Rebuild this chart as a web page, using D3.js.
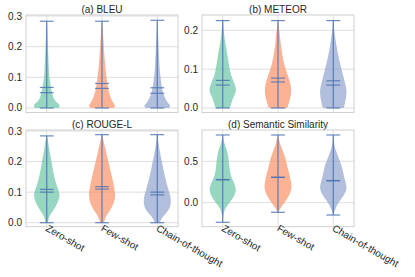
<!DOCTYPE html>
<html>
<head>
<meta charset="utf-8">
<style>
    body { margin: 0; background: white; }
    svg { font-family: "Liberation Sans", Arial, Helvetica, sans-serif; }
</style>
</head>
<body>
<svg width="415" height="277"></svg>
<script src="https://d3js.org/d3.v7.min.js"></script>
<script>
    const methods = ["Zero-shot", "Few-shot", "Chain-of-thought"];
    const colors = ["#66c2a5", "#fc8d62", "#8da0cb"];
    const titles = ["(a) BLEU", "(b) METEOR", "(c) ROUGE-L", "(d) Semantic Similarity"];

    // density outlines per method: [score, relative width]
    const bleuShapes = [
        [[0,0.85],[0.008,1],[0.018,0.7],[0.03,0.5],[0.046,0.4],[0.07,0.28],[0.1,0.19],[0.13,0.15],[0.165,0.12],[0.22,0.07],[0.26,0.04],[0.283,0.01]],
        [[0,0.85],[0.008,1],[0.02,0.75],[0.046,0.52],[0.07,0.42],[0.1,0.32],[0.13,0.25],[0.165,0.18],[0.22,0.11],[0.26,0.05],[0.284,0.01]],
        [[0,0.85],[0.008,1],[0.02,0.68],[0.046,0.43],[0.07,0.32],[0.1,0.23],[0.13,0.17],[0.165,0.13],[0.22,0.08],[0.26,0.04],[0.286,0.01]]
    ];
    const meteorShapes = [
        [[0,0.52],[0.023,0.71],[0.036,0.9],[0.049,1],[0.066,0.81],[0.084,0.6],[0.1,0.5],[0.122,0.4],[0.148,0.29],[0.174,0.15],[0.2,0.07],[0.225,0.01]],
        [[0,0.67],[0.02,0.85],[0.045,1],[0.07,0.86],[0.097,0.57],[0.122,0.38],[0.148,0.26],[0.174,0.17],[0.2,0.1],[0.225,0.01]],
        [[0,0.76],[0.02,0.9],[0.045,1],[0.07,0.81],[0.097,0.62],[0.12,0.45],[0.148,0.29],[0.174,0.17],[0.2,0.07],[0.225,0.01]]
    ];
    const rougeShapes = [
        [[0,0.1],[0.017,0.14],[0.034,0.38],[0.056,0.71],[0.089,1],[0.11,0.81],[0.143,0.57],[0.176,0.43],[0.209,0.31],[0.242,0.17],[0.274,0.07],[0.284,0.01]],
        [[0,0.14],[0.017,0.24],[0.034,0.48],[0.056,0.81],[0.089,1],[0.121,0.86],[0.154,0.71],[0.187,0.52],[0.22,0.36],[0.252,0.19],[0.288,0.01]],
        [[0,0.19],[0.014,0.29],[0.028,0.57],[0.045,0.9],[0.067,1],[0.089,0.95],[0.11,0.79],[0.143,0.6],[0.176,0.43],[0.209,0.29],[0.242,0.14],[0.288,0.01]]
    ];
    const semShapes = [
        [[-0.237,0.01],[-0.15,0.02],[-0.06,0.19],[0.004,0.52],[0.085,0.86],[0.165,1],[0.246,0.8],[0.327,0.57],[0.407,0.5],[0.488,0.45],[0.568,0.4],[0.65,0.28],[0.73,0.08],[0.818,0.01]],
        [[-0.116,0.01],[-0.077,0.14],[0.004,0.48],[0.085,0.81],[0.165,1],[0.246,0.95],[0.327,0.86],[0.407,0.71],[0.488,0.62],[0.568,0.48],[0.65,0.29],[0.73,0.12],[0.818,0.01]],
        [[-0.149,0.01],[-0.077,0.14],[0.004,0.38],[0.085,0.76],[0.165,1],[0.246,0.9],[0.327,0.76],[0.407,0.67],[0.488,0.52],[0.568,0.33],[0.65,0.14],[0.73,0.05],[0.818,0.01]]
    ];

    // summary lines per method
    const bleuMin = [0, 0, 0],           bleuMax = [0.283, 0.283, 0.286];
    const bleuMean = [0.067, 0.08, 0.066], bleuMedian = [0.05, 0.064, 0.048];
    const meteorMin = [0, 0, 0],         meteorMax = [0.225, 0.225, 0.225];
    const meteorMean = [0.071, 0.077, 0.07], meteorMedian = [0.059, 0.067, 0.059];
    const rougeMin = [0, 0, 0],          rougeMax = [0.284, 0.288, 0.288];
    const rougeMean = [0.109, 0.118, 0.1], rougeMedian = [0.1, 0.11, 0.091];
    const semMin = [-0.237, -0.116, -0.149], semMax = [0.818, 0.818, 0.818];
    const semMean = [0.28, 0.308, 0.268], semMedian = [0.276, 0.305, 0.264];

    const yTicks = [[0, 0.1, 0.2, 0.3], [0, 0.1, 0.2], [0, 0.1, 0.2, 0.3], [0, 0.5]];
    const yDomains = [[-0.0147, 0.3033], [-0.0116, 0.2394], [-0.0131, 0.3033], [-0.29, 0.878]];

    const panels = [
        {shapes: bleuShapes, min: bleuMin, max: bleuMax, mean: bleuMean, median: bleuMedian},
        {shapes: meteorShapes, min: meteorMin, max: meteorMax, mean: meteorMean, median: meteorMedian},
        {shapes: rougeShapes, min: rougeMin, max: rougeMax, mean: rougeMean, median: rougeMedian},
        {shapes: semShapes, min: semMin, max: semMax, mean: semMean, median: semMedian}
    ];

    const boxes = [
        {x0: 26, x1: 178, y0: 15, y1: 112.5},
        {x0: 202, x1: 354, y0: 15, y1: 112.5},
        {x0: 26, x1: 178, y0: 130, y1: 226.7},
        {x0: 202, x1: 354, y0: 130, y1: 226.7}
    ];

    const svg = d3.select("svg");
    const gridColor = "#dedede";
    const lineColor = "#4f74b3";

    panels.forEach((p, k) => {
        const b = boxes[k];
        const x = d3.scaleLinear().domain([0.625, 3.375]).range([b.x0, b.x1]);
        const y = d3.scaleLinear().domain(yDomains[k]).range([b.y1, b.y0]);
        const g = svg.append("g");

        // grid
        g.append("g").selectAll("line").data(yTicks[k]).join("line")
            .attr("x1", b.x0).attr("x2", b.x1)
            .attr("y1", d => y(d)).attr("y2", d => y(d))
            .attr("stroke", gridColor).attr("stroke-width", 1);
        g.append("g").selectAll("line").data([1, 2, 3]).join("line")
            .attr("x1", d => x(d)).attr("x2", d => x(d))
            .attr("y1", b.y0).attr("y2", b.y1)
            .attr("stroke", gridColor).attr("stroke-width", 1);

        // y labels
        g.append("g").selectAll("text").data(yTicks[k]).join("text")
            .attr("x", b.x0 - 4).attr("y", d => y(d))
            .attr("dy", "0.35em")
            .attr("text-anchor", "end")
            .attr("font-size", 10)
            .attr("fill", "#262626")
            .text(d => d3.format(".1f")(d));

        // title
        g.append("text")
            .attr("x", (b.x0 + b.x1) / 2).attr("y", b.y0 - 2)
            .attr("text-anchor", "middle")
            .attr("font-size", 10)
            .attr("fill", "#262626")
            .text(titles[k]);

        // violins
        p.shapes.forEach((shape, i) => {
            const pos = i + 1;
            const area = d3.area()
                .y(d => y(d[0]))
                .x0(d => x(pos - d[1] * 0.25))
                .x1(d => x(pos + d[1] * 0.25))
                .curve(d3.curveBasis);
            g.append("path")
                .datum(shape)
                .attr("d", area)
                .attr("fill", colors[i])
                .attr("fill-opacity", 0.68);
        });

        // stat lines
        const lg = g.append("g")
            .attr("stroke", lineColor)
            .attr("stroke-width", 1.2)
            .attr("stroke-opacity", 0.85);
        [0, 1, 2].forEach(i => {
            const pos = i + 1;
            lg.append("line")
                .attr("x1", x(pos)).attr("x2", x(pos))
                .attr("y1", y(p.min[i])).attr("y2", y(p.max[i]));
            [p.min[i], p.max[i], p.mean[i], p.median[i]].forEach(v => {
                lg.append("line")
                    .attr("x1", x(pos - 0.125)).attr("x2", x(pos + 0.125))
                    .attr("y1", y(v)).attr("y2", y(v));
            });
        });

        // frame
        g.append("rect")
            .attr("x", b.x0).attr("y", b.y0)
            .attr("width", b.x1 - b.x0).attr("height", b.y1 - b.y0)
            .attr("fill", "none")
            .attr("stroke", "#d0d0d0")
            .attr("stroke-width", 1);

        // x labels on bottom row only
        if (k >= 2) {
            g.append("g").selectAll("text").data(methods).join("text")
                .attr("transform", (d, i) => `translate(${x(i + 1) + 2},${b.y1 - 3}) rotate(30)`)
                .attr("dy", "0.75em")
                .attr("text-anchor", "start")
                .attr("font-size", 10)
                .attr("fill", "#262626")
                .text(d => d);
        }
    });
</script>
</body>
</html>
